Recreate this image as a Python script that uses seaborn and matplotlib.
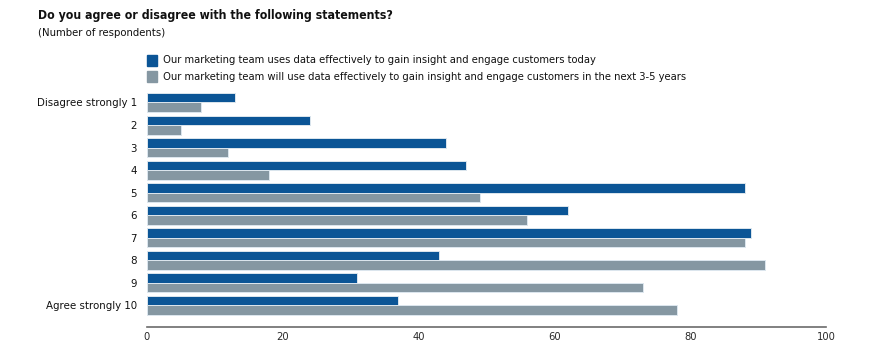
import numpy as np
import matplotlib
matplotlib.use('Agg')
import matplotlib.pyplot as plt
import seaborn as sns
import pandas as pd

# data
categories = ['Disagree strongly 1', '2', '3', '4', '5', '6', '7', '8', '9', 'Agree strongly 10']
today = [13, 24, 44, 47, 88, 62, 89, 43, 31, 37]
future = [8, 5, 12, 18, 49, 56, 88, 91, 73, 78]
series = ['Our marketing team uses data effectively to gain insight and engage customers today',
          'Our marketing team will use data effectively to gain insight and engage customers in the next 3-5 years']
xticks = [0, 20, 40, 60, 80, 100]

blue = '#0b5596'
grey = '#8597a2'

df = pd.DataFrame({'category': categories * 2,
                   'value': today + future,
                   'series': [series[0]] * len(categories) + [series[1]] * len(categories)})

sns.set_style('white')
plt.rcParams['font.family'] = ['DejaVu Sans']
plt.rcParams['font.stretch'] = 'condensed'

fig = plt.figure(figsize=(8.76, 3.53), dpi=100)
ax = fig.add_axes([0.1675, 0.0745, 0.7755, 0.6735])

sns.barplot(df, x='value', y='category', hue='series', order=categories, hue_order=series,
            palette=[blue, grey], saturation=1, orient='h', width=0.84, dodge=True,
            edgecolor='#dce6ee', linewidth=0.7, legend=False, ax=ax)

ax.set_xlim(0, 100)
ax.set_ylim(9.94, -0.6)
ax.set_xticks(xticks)
ax.set_xlabel('')
ax.set_ylabel('')
for s in ['top', 'right', 'left']:
    ax.spines[s].set_visible(False)
ax.spines['bottom'].set_color('#6b6b6b')
ax.spines['bottom'].set_linewidth(1.2)
ax.tick_params(axis='x', direction='in', length=5, width=1, color='#6b6b6b',
               labelsize=8, labelcolor='#2a2a2a', pad=4)
ax.tick_params(axis='y', length=0, labelsize=8.2, labelcolor='#111111', pad=7)

fig.text(0.043, 0.957, 'Do you agree or disagree with the following statements?',
         fontsize=8.8, fontweight='bold', color='#111111', va='center')
fig.text(0.043, 0.907, '(Number of respondents)', fontsize=8.1, color='#111111', va='center')

# legend as manual patches
for i, (lab, col) in enumerate(zip(series, [blue, grey])):
    yy = 0.829 - i * 0.046
    fig.patches.append(plt.Rectangle((0.168, yy - 0.015), 0.011, 0.03, color=col,
                                     transform=fig.transFigure, figure=fig))
    fig.text(0.186, yy, lab, fontsize=8.0, color='#111111', va='center')

fig.savefig('out.png', dpi=100)
